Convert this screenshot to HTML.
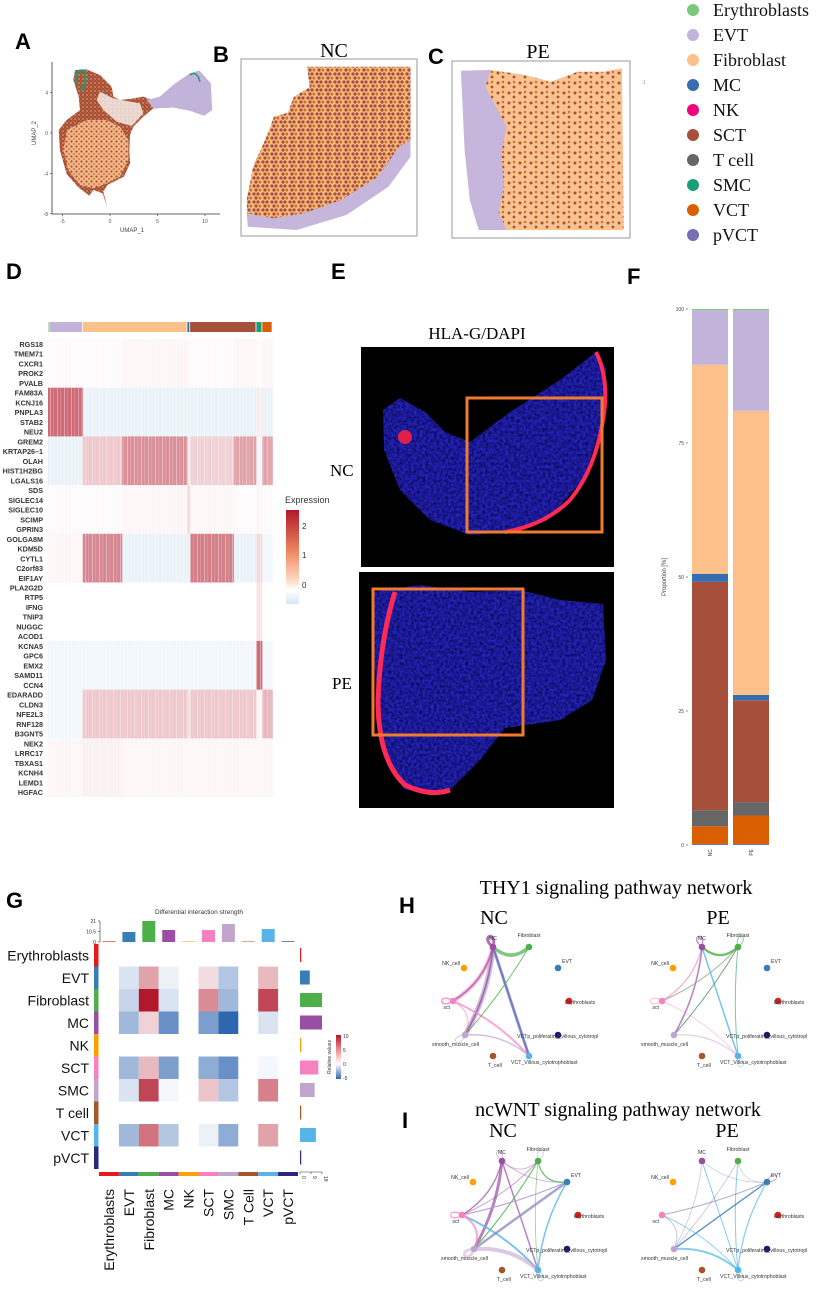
<!DOCTYPE html>
<html><head><meta charset="utf-8">
<style>
html,body{margin:0;padding:0;background:#fff;}
svg{display:block;font-family:"Liberation Sans",sans-serif;}
.serif{font-family:"Liberation Serif",serif;}
.lbl{font-family:"Liberation Sans",sans-serif;font-weight:bold;font-size:22px;}
</style></head>
<body>
<svg id="fig" width="823" height="1295" viewBox="0 0 823 1295" xmlns="http://www.w3.org/2000/svg">
<defs>
  <pattern id="mixB" width="9" height="8" patternUnits="userSpaceOnUse">
    <rect width="9" height="8" fill="#f6bb82"/>
    <circle cx="2" cy="2" r="1.6" fill="#a6503c"/><circle cx="6" cy="2" r="1.6" fill="#a6503c"/>
    <circle cx="4" cy="6" r="1.6" fill="#a6503c"/><circle cx="8" cy="6" r="1.5" fill="#d96a1c"/>
  </pattern>
  <pattern id="mixC" width="11" height="10" patternUnits="userSpaceOnUse">
    <rect width="11" height="10" fill="#f9c28e"/>
    <circle cx="3" cy="3" r="1.5" fill="#a6503c"/><circle cx="8" cy="7" r="1.4" fill="#a6503c"/>
    <circle cx="8" cy="2" r="1.2" fill="#d96a1c"/>
  </pattern>
  <pattern id="umapMix" width="5" height="5" patternUnits="userSpaceOnUse">
    <rect width="5" height="5" fill="#f4b98a"/>
    <circle cx="1.5" cy="1.5" r="1.1" fill="#a6503c"/><circle cx="4" cy="4" r="0.9" fill="#c8661e"/>
  </pattern>
  <pattern id="umapBrown" width="4" height="4" patternUnits="userSpaceOnUse">
    <rect width="4" height="4" fill="#a6503c"/>
    <circle cx="1" cy="1" r="0.8" fill="#c46a2a"/><circle cx="3" cy="3" r="0.7" fill="#f4b98a"/>
  </pattern>
  <pattern id="stripes" width="7" height="4" patternUnits="userSpaceOnUse">
    <rect x="1" width="0.8" height="4" fill="#fff" opacity="0.45"/>
    <rect x="4.5" width="0.6" height="4" fill="#fff" opacity="0.3"/>
  </pattern>
  <filter id="tissue" x="0" y="0" width="100%" height="100%">
    <feTurbulence type="fractalNoise" baseFrequency="0.35" numOctaves="2" seed="3" result="n"/>
    <feColorMatrix in="n" type="matrix" values="0 0 0 0 0  0 0 0 0 0  0 0 0 0 0  0 0 0 -1.6 1.1" result="m"/>
    <feComposite in="SourceGraphic" in2="m" operator="in"/>
  </filter>
</defs>

<!-- ============ Panel A ============ -->
<g>
  <text class="lbl" x="15" y="49">A</text>
  <g id="umapShapes"></g>
  <line x1="52" y1="62" x2="52" y2="214" stroke="#333" stroke-width="0.8"/>
  <line x1="52" y1="214" x2="220" y2="214" stroke="#333" stroke-width="0.8"/>
  <g id="umapTicks" font-size="5" fill="#555"></g>
  <text x="132" y="232" font-size="6" fill="#444" text-anchor="middle">UMAP_1</text>
  <text x="0" y="0" font-size="6" fill="#444" text-anchor="middle" transform="translate(36,133) rotate(-90)">UMAP_2</text>
</g>

<!-- ============ Panel B / C ============ -->
<g>
  <text class="lbl" x="213" y="62">B</text>
  <rect x="241" y="59" width="176" height="177" fill="#fff" stroke="#999" stroke-width="1"/>
  <polygon id="bShape" fill="url(#mixB)"/>
  <polygon id="bBand" fill="#c6b6dc"/>
  <text class="serif" x="334" y="57" font-size="20" text-anchor="middle">NC</text>
</g>
<g>
  <text class="lbl" x="428" y="64">C</text>
  <rect x="452" y="61" width="178" height="177" fill="#fff" stroke="#999" stroke-width="1"/>
  <polygon id="cShape" fill="url(#mixC)"/>
  <polygon id="cBand" fill="#c6b6dc"/>
  <text class="serif" x="538" y="58" font-size="20" text-anchor="middle">PE</text>
  <text x="643" y="84" font-size="5" fill="#999">1</text>
</g>

<!-- Legend -->
<g id="legend"></g>

<!-- ============ Panel D ============ -->
<g>
  <text class="lbl" x="6" y="279">D</text>
  <g id="dHeat"></g>
  <text x="285" y="503" font-size="9" fill="#333">Expression</text>
  <defs><linearGradient id="exprGrad" x1="0" y1="0" x2="0" y2="1">
    <stop offset="0" stop-color="#b2182b"/><stop offset="0.45" stop-color="#ef8a62"/>
    <stop offset="0.75" stop-color="#fddbc7"/><stop offset="0.85" stop-color="#ffffff"/><stop offset="1" stop-color="#d6e6f4"/></linearGradient></defs>
  <rect x="286" y="510" width="13" height="94" fill="url(#exprGrad)"/>
  <g font-size="8" fill="#333"><text x="302" y="529">2</text><text x="302" y="558">1</text><text x="302" y="588">0</text></g>
</g>

<!-- ============ Panel E ============ -->
<g>
  <text class="lbl" x="331" y="279">E</text>
  <text class="serif" x="477" y="339" font-size="17" text-anchor="middle">HLA-G/DAPI</text>
  <text class="serif" x="330" y="476" font-size="17">NC</text>
  <text class="serif" x="332" y="689" font-size="17">PE</text>
  <rect x="361" y="347" width="253" height="220" fill="#000"/>
  <rect x="359" y="572" width="255" height="236" fill="#000"/>
  <polygon points="383,410 400,398 425,412 445,432 470,442 510,412 560,380 596,352 606,368 603,420 584,478 548,520 510,532 470,535 430,520 400,490 384,450" fill="#2422b8"/>
  <polygon points="383,410 400,398 425,412 445,432 470,442 510,412 560,380 596,352 606,368 603,420 584,478 548,520 510,532 470,535 430,520 400,490 384,450" fill="#05052a" filter="url(#tissue)" opacity="0.85"/>
  <path d="M596,352 Q610,380 603,420 Q595,470 570,500 Q545,525 505,532" fill="none" stroke="#ff2a55" stroke-width="4"/>
  <circle cx="405" cy="437" r="7" fill="#e0204a"/>
  <polygon points="374,592 420,585 470,592 520,590 560,600 603,604 606,660 592,700 560,720 505,728 480,760 448,792 405,790 386,760 378,700 372,640" fill="#2422b8"/>
  <polygon points="374,592 420,585 470,592 520,590 560,600 603,604 606,660 592,700 560,720 505,728 480,760 448,792 405,790 386,760 378,700 372,640" fill="#05052a" filter="url(#tissue)" opacity="0.85"/>
  <path d="M395,592 Q380,640 378,700 Q378,760 405,785 Q430,797 450,790" fill="none" stroke="#ff2a55" stroke-width="5"/>
  <rect x="467" y="398" width="135" height="134" fill="none" stroke="#f07b30" stroke-width="3"/>
  <rect x="373" y="589" width="150" height="146" fill="none" stroke="#f07b30" stroke-width="3"/>
</g>

<!-- ============ Panel F ============ -->
<g>
  <text class="lbl" x="627" y="284">F</text>
  <g id="fBars"></g>
  <text font-size="6" fill="#444" text-anchor="middle" transform="translate(666,577) rotate(-90)">Proportion [%]</text>
</g>

<!-- ============ Panel G ============ -->
<g>
  <text class="lbl" x="6" y="908">G</text>
  <text x="199" y="914" font-size="6.5" fill="#333" text-anchor="middle">Differential interaction strength</text>
  <g id="gChart"></g>
  <defs><linearGradient id="relGrad" x1="0" y1="0" x2="0" y2="1">
    <stop offset="0" stop-color="#b2182b"/><stop offset="0.33" stop-color="#ef8a8a"/>
    <stop offset="0.66" stop-color="#ffffff"/><stop offset="1" stop-color="#2f66b0"/></linearGradient></defs>
  <rect x="336" y="1035" width="5" height="44" fill="url(#relGrad)"/>
  <g font-size="5" fill="#333"><text x="343" y="1038">10</text><text x="343" y="1052">5</text><text x="343" y="1066">0</text><text x="343" y="1080">-5</text></g>
  <text font-size="5" fill="#333" text-anchor="middle" transform="translate(331,1057) rotate(-90)">Relative values</text>
</g>

<!-- ============ Panel H / I ============ -->
<g>
  <text class="lbl" x="399" y="913">H</text>
  <text class="serif" x="616" y="894" font-size="20" text-anchor="middle">THY1 signaling pathway network</text>
  <text class="serif" x="494" y="924" font-size="20" text-anchor="middle">NC</text>
  <text class="serif" x="718" y="924" font-size="20" text-anchor="middle">PE</text>
  <g id="hNC"></g><g id="hPE"></g>
</g>
<g>
  <text class="lbl" x="402" y="1128">I</text>
  <text class="serif" x="618" y="1116" font-size="20" text-anchor="middle">ncWNT signaling pathway network</text>
  <text class="serif" x="503" y="1137" font-size="20" text-anchor="middle">NC</text>
  <text class="serif" x="727" y="1137" font-size="20" text-anchor="middle">PE</text>
  <g id="iNC"></g><g id="iPE"></g>
</g>
</svg>

<script>
const NS='http://www.w3.org/2000/svg';
function mk(tag,attrs,parent,txt){const e=document.createElementNS(NS,tag);for(const k in attrs)e.setAttribute(k,attrs[k]);if(txt!==undefined)e.textContent=txt;parent.appendChild(e);return e;}

// ---------- Legend data ----------
const legendNames=['Erythroblasts','EVT','Fibroblast','MC','NK','SCT','T cell','SMC','VCT','pVCT'];
const legendColors=['#7bc97b','#c2b3da','#fcc08a','#386cb0','#f0027f','#a6503c','#666666','#1b9e77','#d95f02','#7570b3'];
(function(){const g=document.getElementById('legend');
 legendNames.forEach((n,i)=>{const y=10+i*25;
  const it=mk('g',{},g);
  
  
  mk('circle',{cx:693,cy:y,r:6,fill:legendColors[i]},it);
  mk('text',{x:713,y:y+6,'font-size':18,class:'serif',fill:'#111'},it,n);});})();

// ---------- UMAP ----------
const umapXTicks=[-5,0,5,10];
const umapYTicks=[4,0,-4,-8];
(function(){const g=document.getElementById('umapTicks');
 const xs=v=>110+v*9.5, ys=v=>133-v*10.1;
 umapXTicks.forEach(v=>{mk('line',{x1:xs(v),x2:xs(v),y1:214,y2:216,stroke:'#333','stroke-width':0.6},g);mk('text',{x:xs(v),y:223,'text-anchor':'middle'},g,v);});
 umapYTicks.forEach(v=>{mk('line',{x1:50,x2:52,y1:ys(v),y2:ys(v),stroke:'#333','stroke-width':0.6},g);mk('text',{x:48,y:ys(v)+2,'text-anchor':'end'},g,v);});
 const s=document.getElementById('umapShapes');
 const T=p=>p.map(q=>(q[0]/3)+','+(q[1]/3+20)).join(' ');
 const body=[[225,150],[260,148],[300,165],[335,200],[340,230],[360,240],[400,235],[430,230],[455,240],[480,230],[520,195],[570,160],[598,152],[632,190],[636,270],[612,287],[570,272],[520,262],[460,265],[430,290],[400,320],[390,345],[388,390],[390,430],[372,470],[322,495],[310,515],[322,563],[308,520],[280,510],[268,527],[235,502],[200,462],[180,392],[176,330],[200,300],[240,270],[236,230],[220,180]];
 mk('polygon',{points:T(body),fill:'url(#umapBrown)'},s);
 const peach=[[200,330],[260,300],[320,300],[360,320],[385,360],[385,420],[360,470],[320,490],[280,505],[240,495],[205,450],[190,390]];
 mk('polygon',{points:T(peach),fill:'url(#umapMix)'},s);
 const white=[[300,215],[340,235],[390,245],[420,250],[430,280],[395,318],[350,305],[310,270],[290,240]];
 mk('polygon',{points:T(white),fill:'#fff',opacity:0.75},s);
 const lav=[[440,240],[480,230],[520,195],[570,160],[598,152],[632,190],[636,270],[612,287],[570,272],[520,262],[460,265]];
 mk('polygon',{points:T(lav),fill:'#c2b3da'},s);
 mk('path',{d:'M'+(228/3)+','+(190/3+20)+' Q'+(222/3)+','+(145/3+20)+' '+(255/3)+','+(152/3+20)+' Q'+(262/3)+','+(200/3+20)+' '+(240/3)+','+(210/3+20),fill:'none',stroke:'#1b9e77','stroke-width':2},s);
 mk('path',{d:'M'+(570/3)+','+(165/3+20)+' Q'+(590/3)+','+(150/3+20)+' '+(600/3)+','+(185/3+20),fill:'none',stroke:'#1b9e77','stroke-width':1.5},s);
})();

// ---------- spatial shapes ----------
(function(){
 const T=p=>p.map(q=>(q[0]/1.905).toFixed(1)+','+(q[1]/3).toFixed(1)).join(' ');
 document.getElementById('bShape').setAttribute('points',T([[585,200],[782,200],[782,440],[730,560],[650,635],[565,683],[472,676],[470,600],[482,500],[505,420],[522,350],[548,338],[560,290],[590,262]]));
 document.getElementById('bBand').setAttribute('points',T([[782,420],[782,470],[740,560],[660,645],[565,690],[472,680],[470,640],[520,655],[580,640],[650,600],[720,530],[760,440]]));
 document.getElementById('cShape').setAttribute('points',T([[878,212],[935,210],[1000,225],[1050,245],[1100,215],[1150,215],[1185,205],[1188,690],[912,690],[878,212]]));
 document.getElementById('cBand').setAttribute('points',T([[878,212],[935,210],[925,260],[945,320],[965,380],[955,460],[960,560],[950,640],[965,690],[912,690],[895,600],[885,450]]));
})();

// ---------- Panel D ----------
const genes=['RGS18','TMEM71','CXCR1','PROK2','PVALB','FAM83A','KCNJ16','PNPLA3','STAB2','NEU2','GREM2','KRTAP26\u20131','OLAH','HIST1H2BG','LGALS16','SDS','SIGLEC14','SIGLEC10','SCIMP','GPRIN3','GOLGA8M','KDM5D','CYTL1','C2orf83','EIF1AY','PLA2G2D','RTP5','IFNG','TNIP3','NUGGC','ACOD1','KCNA5','GPC6','EMX2','SAMD11','CCN4','EDARADD','CLDN3','NFE2L3','RNF128','B3GNT5','NEK2','LRRC17','TBXAS1','KCNH4','LEMD1','HGFAC'];
const clusterNames=['Erythroblasts','EVT','Fibroblast','MC','SCT','SMC','VCT'];
const clusterShare=[0.6,14.5,45.5,1.2,28.8,2.6,4.4];
const clusterColors=['#7bc97b','#c2b3da','#fcc08a','#386cb0','#a6503c','#1b9e77','#d95f02'];
const segNames=['EVT','FibA','FibB','MC','SCTa','SCTb','SMC','VCT'];
const segShare=[15.1,17.2,28.3,1.2,19,9.8,2.6,4.4];
const blockRows=[5,5,5,5,5,6,5,5,6];
const blockValues=[
 [0.05,0.05,0.1,0.05,0.05,0.1,0.05,0.1],
 [1.6,-0.3,-0.3,-0.3,-0.3,-0.3,0.2,-0.3],
 [-0.3,0.6,1.2,0.2,0.5,1.0,-0.2,1.0],
 [0.05,0.05,0.1,0.4,0.1,0.05,0.1,0.05],
 [0.1,1.3,-0.3,-0.3,1.4,-0.3,0.4,-0.2],
 [0,0,0,0,0,0,0.3,0],
 [-0.2,-0.2,-0.2,-0.2,-0.2,-0.2,1.6,-0.2],
 [-0.2,0.6,0.6,0.3,0.6,0.6,0.1,0.8],
 [0.1,0.15,0.1,0.1,0.1,0.1,0.1,0.1]];
function exprColor(v){ if(v<0){const t=Math.min(1,-v/0.5);return `rgb(${Math.round(255-t*33)},${Math.round(255-t*20)},${Math.round(255-t*11)})`;}
 const t=Math.min(1,v/2.5); const r=Math.round(255-t*77), g=Math.round(255-t*231), b=Math.round(255-t*212); return `rgb(${r},${g},${b})`;}
(function(){const g=document.getElementById('dHeat');
 const X0=48,X1=278,Y0=339,RH=9.74, W=X1-X0;
 const xScale=p=>X0+p/100*W;
 let acc=0; clusterShare.forEach((s,i)=>{const r=mk('rect',{x:xScale(acc),y:322,width:Math.max(0.5,s/100*W-0.8),height:10,fill:clusterColors[i]},g);
  
   acc+=s;});
 let row=0;
 blockRows.forEach((n,bi)=>{let a=0; segShare.forEach((s,si)=>{
   const c=mk('rect',{x:xScale(a),y:Y0+row*RH,width:s/100*W+0.3,height:n*RH+0.3,fill:exprColor(blockValues[bi][si])},g);
   
    a+=s;}); row+=n;});
 mk('rect',{x:X0,y:Y0,width:W,height:row*RH,fill:'url(#stripes)'},g);
 genes.forEach((gn,i)=>{const t=mk('text',{x:43,y:Y0+5+i*RH+3,'text-anchor':'end','font-size':7.2,'font-weight':'bold',fill:'#333'},g,gn);
  
  });
})();

// ---------- Panel F ----------
const fGroups=['NC','PE'];
const fCats=['pVCT','VCT','T cell','SCT','MC','Fibroblast','EVT','Erythroblasts'];
const fColors=['#7570b3','#d95f02','#666666','#a6503c','#386cb0','#fcc08a','#c2b3da','#7bc97b'];
const fNC=[0.2,3.3,3.0,42.6,1.5,39.0,10.2,0.2];
const fPE=[0.2,5.3,2.5,19.0,1.0,53.0,18.8,0.2];
const fTicks=[0,25,50,75,100];
(function(){const g=document.getElementById('fBars');
 const y=v=>845-v*5.36; const xs=[692,733];
 fTicks.forEach(t=>{mk('text',{x:684,y:y(t)+2,'text-anchor':'end','font-size':5,fill:'#444'},g,t);mk('line',{x1:686,x2:688,y1:y(t),y2:y(t),stroke:'#444','stroke-width':0.6},g);});
 [fNC,fPE].forEach((vals,gi)=>{let acc=0; vals.forEach((v,ci)=>{
   const r=mk('rect',{x:xs[gi],y:y(acc+v),width:36,height:v*5.36,fill:fColors[ci]},g);
   
    acc+=v;});
  mk('text',{'font-size':5,fill:'#444','text-anchor':'end',transform:`translate(${xs[gi]+20},849) rotate(-90)`},g,fGroups[gi]);});
})();

// ---------- Panel G ----------
const gTypes=['Erythroblasts','EVT','Fibroblast','MC','NK','SCT','SMC','T cell','VCT','pVCT'];
const gColTypes=['Erythroblasts','EVT','Fibroblast','MC','NK','SCT','SMC','T Cell','VCT','pVCT'];
const gColors=['#e41a1c','#377eb8','#4daf4a','#984ea3','#ff9f00','#f781bf','#c2a5cf','#a65628','#56b4e9','#2a2a7a'];
const gMatrix=[
 [null,null,null,null,null,null,null,null,null,null],
 [null,-1,4,-0.5,null,1.5,-2,null,3,null],
 [null,-1.5,10,-1,null,5,-2.5,null,8,null],
 [null,-2.5,2,-4,null,-3.5,-5.5,null,-1,null],
 [null,null,null,null,null,null,null,null,null,null],
 [null,-2.5,3,-3.5,null,-3,-4,null,-0.3,null],
 [null,-1,8,-0.3,null,2.5,-2,null,5.5,null],
 [null,null,null,null,null,null,null,null,null,null],
 [null,-2.5,6,-2,null,-0.5,-3,null,4,null],
 [null,null,null,null,null,null,null,null,null,null]];
const gTopBars=[0.6,10,21,12,0.5,12,18,0.5,13,0.6];
const gRightBars=[1,8,18,18,1,15,12,1,13,1];
const gTopTicks=[0,10.5,21];
const gRightTicks=[0,9,18];
function relColor(v){ if(v<0){const t=Math.min(1,-v/5.5);return `rgb(${Math.round(255-t*208)},${Math.round(255-t*153)},${Math.round(255-t*79)})`;}
 const t=Math.min(1,v/10);return `rgb(${Math.round(255-t*77)},${Math.round(255-t*231)},${Math.round(255-t*212)})`;}
(function(){const g=document.getElementById('gChart');
 const X0=99,Y0=944,CW=19.9,CH=22.5;
 const cx=i=>X0+i*CW, cy=i=>Y0+i*CH;
 gMatrix.forEach((row,r)=>row.forEach((v,c)=>{ if(v===null)return;
  const e=mk('rect',{x:cx(c),y:cy(r),width:CW,height:CH,fill:relColor(v)},g);
  
  }));
 gTypes.forEach((t,i)=>{
  mk('rect',{x:94,y:cy(i),width:4.5,height:CH,fill:gColors[i]},g);
  const l=mk('text',{x:89,y:cy(i)+CH/2+5,'text-anchor':'end','font-size':14,fill:'#111'},g,t);
  
  
  mk('rect',{x:cx(i),y:1172,width:CW,height:4,fill:gColors[i]},g);
  const cl=mk('text',{'font-size':14,fill:'#111','text-anchor':'end',transform:`translate(${cx(i)+CW/2+5},1189) rotate(-90)`},g,gColTypes[i]);
  
  
  const tb=mk('rect',{x:cx(i)+3.5,y:942-gTopBars[i],width:13,height:gTopBars[i],fill:gColors[i]},g);
  
  
  const rb=mk('rect',{x:300,y:cy(i)+4,width:gRightBars[i]*22/18,height:14,fill:gColors[i]},g);
  
  
 });
 mk('line',{x1:100,x2:100,y1:921,y2:942,stroke:'#333','stroke-width':0.6},g);
 gTopTicks.forEach(t=>{const yy=942-t; mk('line',{x1:98,x2:100,y1:yy,y2:yy,stroke:'#333','stroke-width':0.6},g); mk('text',{x:96,y:yy+2,'text-anchor':'end','font-size':5,fill:'#333'},g,t);});
 mk('line',{x1:300,x2:322,y1:1172,y2:1172,stroke:'#333','stroke-width':0.6},g);
 gRightTicks.forEach(t=>{const xx=300+t*22/18; mk('line',{x1:xx,x2:xx,y1:1172,y2:1174,stroke:'#333','stroke-width':0.6},g); mk('text',{'font-size':5,fill:'#333','text-anchor':'start',transform:`translate(${xx+2},1176) rotate(90)`},g,t);});
})();

// ---------- Networks ----------
const netNodes=['MC','Fib','NK','EVT','Ery','sct','VCTp','smc','Tc','VCT'];
const netLabels=['MC','Fibroblast','NK_cell','EVT','Erythroblasts','sct','VCTp_poliferating_villous_cytotropl','smooth_muscle_cell','T_cell','VCT_Villous_cytotrophoblast'];
const netColors=['#984ea3','#4daf4a','#ff9f00','#377eb8','#e41a1c','#f781bf','#1a1a6e','#c2a5cf','#a65628','#56b4e9'];
const nodeOff=[[0,-46],[36,-46],[-29,-25],[65,-25],[76,8],[-40,8],[65,42],[-28,42],[0,63],[36,63]];
const labOff=[[0,-7,'middle'],[0,-10,'middle'],[-4,-3,'end'],[4,-5,'start'],[-4,3,'start'],[-3,8,'end'],[-41,3,'start'],[-33,11,'start'],[-5,11,'start'],[-18,8,'start']];
const thyNC=[['MC','MC',0,3,0.8],['MC','Fib',1,3.5,0.7],['MC','sct',5,4,0.6],['MC','smc',7,5,0.8],['MC','VCT',9,3,0.8],['MC','VCT',0,2,0.7],['MC','smc',0,1.5,0.8],['sct','sct',5,1.5,0.8],['sct','VCT',5,2,0.7],['sct','smc',5,1,0.6],['Fib','smc',1,1,0.8],['smc','VCT',7,1.5,0.7],['smc','smc',7,1,0.6],['MC','sct',0,1.5,0.7]];
const thyPE=[['MC','MC',0,1,0.8],['Fib','Fib',1,1,0.6],['MC','Fib',1,2.2,0.8],['MC','sct',5,1.2,0.7],['Fib','sct',1,1,0.6],['Fib','smc',1,1,0.6],['Fib','VCT',1,1,0.6],['MC','smc',7,2,0.7],['MC','smc',0,1,0.6],['MC','VCT',9,1.5,0.8],['sct','VCT',5,1,0.4],['Fib','sct',5,0.8,0.4],['Fib','smc',6,0.6,0.4],['sct','sct',5,1,0.6],['smc','VCT',7,1,0.6],['VCT','VCT',9,0.8,0.5],['Fib','VCT',9,0.6,0.5]];
const wntNC=[['MC','MC',0,0.8,0.5],['Fib','Fib',1,0.8,0.4],['MC','sct',0,1.5,0.7],['MC','smc',0,3,0.7],['MC','VCT',0,1.5,0.7],['MC','EVT',0,1,0.4],['Fib','EVT',1,1.2,0.8],['Fib','smc',1,1.2,0.8],['Fib','VCT',1,0.8,0.6],['EVT','sct',5,1.2,0.8],['EVT','smc',7,3,0.7],['EVT','VCT',9,1.5,0.8],['sct','VCT',9,2,0.8],['sct','smc',5,2,0.7],['smc','VCT',7,4,0.6],['sct','sct',5,1.2,0.8],['smc','smc',7,3,0.5],['VCT','VCT',9,0.8,0.6],['MC','Fib',0,1,0.4],['Fib','sct',0,1,0.5],['EVT','smc',3,1,0.6],['sct','EVT',9,0.8,0.5]];
const wntPE=[['MC','EVT',6,0.8,0.25],['MC','VCT',9,1,0.7],['Fib','VCT',9,1,0.7],['EVT','sct',6,1,0.35],['EVT','smc',3,1.5,0.8],['EVT','VCT',9,1.2,0.7],['smc','VCT',9,2,0.7],['sct','VCT',9,1,0.6],['sct','smc',6,0.8,0.3],['MC','smc',6,0.8,0.25],['Fib','smc',6,0.8,0.25],['EVT','EVT',6,0.8,0.4],['VCT','VCT',9,0.8,0.6],['Fib','EVT',6,0.6,0.3]];
function drawNet(id,base,edges){
 const g=document.getElementById(id); const idx=n=>netNodes.indexOf(n);
 const P=i=>[base[0]+nodeOff[i][0],base[1]+nodeOff[i][1]];
 const C=[base[0]+18,base[1]+8];
 edges.forEach(e=>{const a=P(idx(e[0])),b=P(idx(e[1]));let d;
  if(e[0]===e[1]){const vx=a[0]-C[0],vy=a[1]-C[1],L=Math.hypot(vx,vy)||1,ux=vx/L,uy=vy/L;
   const cxp=a[0]+ux*7,cyp=a[1]+uy*7; d=`M${a[0]},${a[1]} C${cxp-uy*10+ux*8},${cyp+ux*10+uy*8} ${cxp+uy*10+ux*8},${cyp-ux*10+uy*8} ${a[0]},${a[1]}`;}
  else{const mx=(a[0]+b[0])/2,my=(a[1]+b[1])/2; const k=0.3; d=`M${a[0]},${a[1]} Q${mx+(C[0]-mx)*k},${my+(C[1]-my)*k} ${b[0]},${b[1]}`;}
  const p=mk('path',{d:d,fill:'none',stroke:netColors[e[2]],'stroke-width':e[3],opacity:e[4],'stroke-linecap':'round'},g);
  
  });
 netNodes.forEach((n,i)=>{const p=P(i);
  const c=mk('circle',{cx:p[0],cy:p[1],r:3.3,fill:netColors[i]},g);
  
  
  mk('text',{x:p[0]+labOff[i][0],y:p[1]+labOff[i][1],'font-size':5.2,fill:'#333','text-anchor':labOff[i][2]},g,netLabels[i]);});
}
drawNet('hNC',[493,993],thyNC);
drawNet('hPE',[702,993],thyPE);
drawNet('iNC',[502,1207],wntNC);
drawNet('iPE',[702,1207],wntPE);
</script>
</body></html>
